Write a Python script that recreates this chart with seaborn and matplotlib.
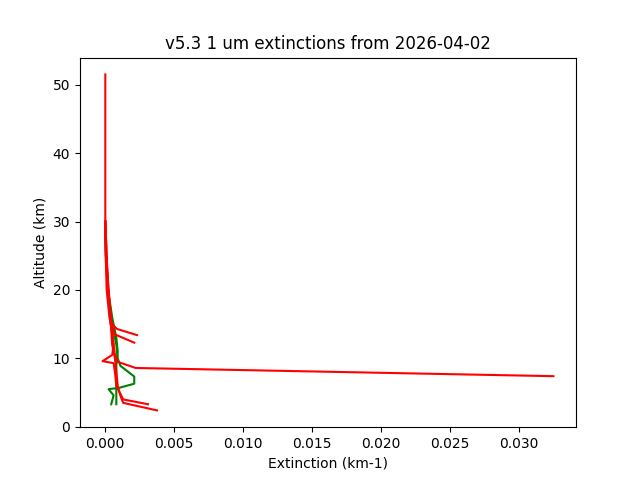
import pandas as pd
import matplotlib
matplotlib.use("Agg")
import matplotlib.pyplot as plt
import seaborn as sns

# extinction profiles (km-1 vs km)
green_1_alt = [29.0, 25.0, 20.0, 15.0, 12.0, 10.0, 8.9, 7.35, 6.3, 5.7, 5.5, 4.6, 3.3]
green_1_ext = [0.0, 0.00005, 0.0002, 0.0005, 0.0008, 0.0009, 0.0011, 0.0021, 0.0021, 0.001, 0.00024, 0.0006, 0.00043]
green_2_alt = [28.0, 24.0, 20.0, 16.0, 13.0, 11.0, 9.0, 7.0, 5.0, 3.3]
green_2_ext = [0.0, 0.00005, 0.0002, 0.0005, 0.0008, 0.0009, 0.0008, 0.0008, 0.0008, 0.0008]

red_1_alt = [51.5, 40.0, 30.0, 25.0, 20.0, 16.0, 14.0, 12.0, 10.5, 9.5, 8.6, 7.4]
red_1_ext = [0.0, 0.0, 0.0, 0.00003, 0.0001, 0.0003, 0.0005, 0.0006, 0.0007, 0.0009, 0.0022, 0.0325]
red_2_alt = [30.0, 25.0, 20.0, 16.0, 15.0, 14.3, 13.4]
red_2_ext = [0.0, 0.00005, 0.0002, 0.0004, 0.0005, 0.00085, 0.0023]
red_3_alt = [30.0, 25.0, 20.0, 15.0, 13.5, 12.3]
red_3_ext = [0.0, 0.00005, 0.00025, 0.0004, 0.0007, 0.0021]
red_4_alt = [30.0, 20.0, 15.0, 12.0, 10.5, 9.6, 9.3, 8.0, 6.0, 4.0, 3.3]
red_4_ext = [0.0, 0.0002, 0.0004, 0.0006, 0.0005, -0.0002, 0.0006, 0.0007, 0.0008, 0.0013, 0.0031]
red_5_alt = [30.0, 20.0, 15.0, 12.0, 10.0, 8.0, 6.0, 4.5, 3.5, 2.4]
red_5_ext = [0.0, 0.0002, 0.0004, 0.0005, 0.0007, 0.0008, 0.0009, 0.0011, 0.0013, 0.00375]

profiles = [
    (green_1_ext, green_1_alt, "green"),
    (green_2_ext, green_2_alt, "green"),
    (red_1_ext, red_1_alt, "red"),
    (red_2_ext, red_2_alt, "red"),
    (red_3_ext, red_3_alt, "red"),
    (red_4_ext, red_4_alt, "red"),
    (red_5_ext, red_5_alt, "red"),
]

fig, ax = plt.subplots(figsize=(6.4, 4.8), dpi=100)
for ext, alt, col in profiles:
    df = pd.DataFrame({"ext": ext, "alt": alt})
    sns.lineplot(data=df, x="ext", y="alt", sort=False, estimator=None,
                 color=col, linewidth=1.5, ax=ax)

ax.set_title("v5.3 1 um extinctions from 2026-04-02")
ax.set_xlabel("Extinction (km-1)")
ax.set_ylabel("Altitude (km)")
fig.savefig("out.png", dpi=100)
